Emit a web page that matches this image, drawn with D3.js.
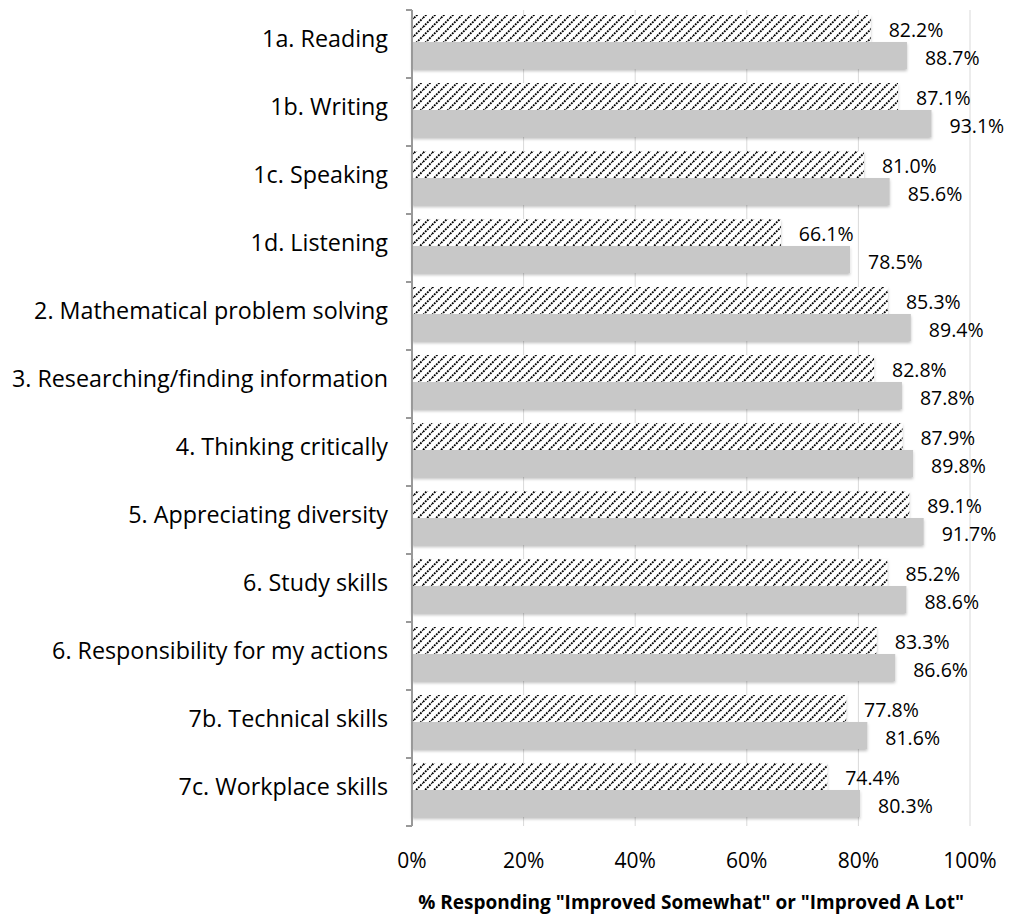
<!DOCTYPE html>
<html><head><meta charset="utf-8">
<script src="https://cdn.jsdelivr.net/npm/d3@7"></script>
<style>body{margin:0;background:#fff}svg{display:block}text{font-family:"Open Sans",sans-serif}</style>
</head><body><svg id="c" width="1013" height="920"></svg>
<script>
const categories = ["1a. Reading","1b. Writing","1c. Speaking","1d. Listening","2. Mathematical problem solving","3. Researching/finding information","4. Thinking critically","5. Appreciating diversity","6. Study skills","6. Responsibility for my actions","7b. Technical skills","7c. Workplace skills"];
const seriesHatched = [82.2,87.1,81.0,66.1,85.3,82.8,87.9,89.1,85.2,83.3,77.8,74.4];
const seriesGray = [88.7,93.1,85.6,78.5,89.4,87.8,89.8,91.7,88.6,86.6,81.6,80.3];
const xTicks = [0,20,40,60,80,100];
const axisTitle = '% Responding "Improved Somewhat" or "Improved A Lot"';

const svg = d3.select("#c");
const x = d3.scaleLinear().domain([0,100]).range([412,970]);
const y = d3.scaleBand().domain(categories).range([10,826]).paddingInner(0).paddingOuter(0);
const bw = y.bandwidth();
const barH = 27, top0 = 5;

const defs = svg.append("defs");
const P = 9;
const pat = defs.append("pattern").attr("id","hatch").attr("patternUnits","userSpaceOnUse")
  .attr("width",P).attr("height",P);
pat.append("rect").attr("width",P).attr("height",P).attr("fill","#fff");
pat.append("path").attr("d",`M-2,${P+2} L${P+2},-2 M-2,2 L2,-2 M${P-2},${P+2} L${P+2},${P-2}`).attr("stroke","#000").attr("stroke-width",1.9).attr("stroke-dasharray","1.8,1.1");
const flt = defs.append("filter").attr("id","sh").attr("x","-5%").attr("y","-20%").attr("width","110%").attr("height","160%");
flt.append("feDropShadow").attr("dx",0).attr("dy",2).attr("stdDeviation",1.5).attr("flood-color","#000").attr("flood-opacity",0.25);

// gridlines
svg.append("g").selectAll("line").data(xTicks.slice(1)).join("line")
  .attr("x1",d=>x(d)).attr("x2",d=>x(d)).attr("y1",10).attr("y2",826)
  .attr("stroke","#d9d9d9").attr("stroke-width",1);

const g = svg.append("g");
categories.forEach((c,i)=>{
  const yt = y(c)+top0;
  g.append("rect").attr("x",x(0)).attr("y",yt).attr("width",x(seriesHatched[i])-x(0)).attr("height",barH).attr("fill","url(#hatch)").attr("filter","url(#sh)");
  g.append("rect").attr("x",x(0)).attr("y",yt+barH).attr("width",x(seriesGray[i])-x(0)).attr("height",barH).attr("fill","#c8c8c8").attr("filter","url(#sh)");
  g.append("text").attr("x",x(seriesHatched[i])+18).attr("y",yt+barH/2+3).attr("dominant-baseline","middle").attr("font-size",19.5).attr("fill","#000").text(seriesHatched[i].toFixed(1)+"%");
  g.append("text").attr("x",x(seriesGray[i])+18).attr("y",yt+barH+barH/2+4).attr("dominant-baseline","middle").attr("font-size",19.5).attr("fill","#000").text(seriesGray[i].toFixed(1)+"%");
});

// y axis
const ya = svg.append("g");
ya.append("line").attr("x1",x(0)).attr("x2",x(0)).attr("y1",10).attr("y2",826).attr("stroke","#999").attr("stroke-width",2);
const bounds = categories.map(c=>y(c)).concat([y(categories[categories.length-1])+bw]);
ya.selectAll("line.t").data(bounds).join("line").attr("class","t")
  .attr("x1",x(0)-6).attr("x2",x(0)).attr("y1",d=>d).attr("y2",d=>d).attr("stroke","#999").attr("stroke-width",2);
ya.selectAll("text").data(categories).join("text")
  .attr("x",388).attr("y",d=>y(d)+bw/2-3).attr("text-anchor","end").attr("dominant-baseline","middle")
  .attr("font-size",23.3).attr("fill","#000").text(d=>d);

// x tick labels
svg.append("g").selectAll("text").data(xTicks).join("text")
  .attr("x",d=>x(d)).attr("y",862).attr("text-anchor","middle").attr("dominant-baseline","middle")
  .attr("font-size",21).attr("fill","#000").text(d=>d+"%");

svg.append("text").attr("x",691).attr("y",904).attr("text-anchor","middle").attr("dominant-baseline","middle")
  .attr("font-size",19).attr("font-weight","bold").attr("fill","#000").text(axisTitle);
</script></body></html>
